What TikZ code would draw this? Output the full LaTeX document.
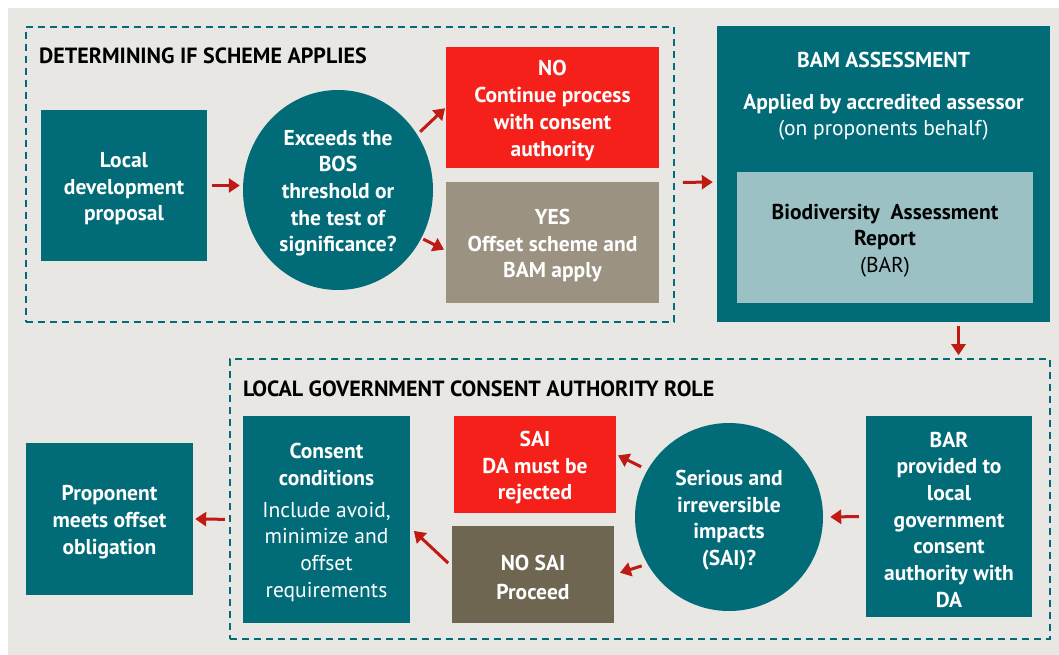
\documentclass[tikz,border=0pt]{standalone}
\usepackage{fontspec}
\setmainfont{PT Sans}
\usetikzlibrary{arrows.meta,shapes.geometric,calc}
\definecolor{bgc}{HTML}{E8E7E3}
\definecolor{tealc}{HTML}{016B78}
\definecolor{redc}{HTML}{F5201A}
\definecolor{yesc}{HTML}{9C9282}
\definecolor{nosaic}{HTML}{6E6651}
\definecolor{barc}{HTML}{9CC1C4}
\definecolor{arrc}{HTML}{C01A14}
\newcommand{\upstrut}{\rule{0pt}{21.5pt}}
\begin{document}
\begin{tikzpicture}[x=1pt,y=-1pt,
  txt/.style={font=\bfseries\fontsize{21.5}{26.7}\selectfont, align=center, text=white},
  box/.style={txt, rectangle, inner sep=0pt},
  circ/.style={txt, ellipse, inner sep=0pt, fill=tealc},
  frame/.style={draw=tealc, line width=1.6pt, dash pattern=on 7pt off 5pt, rectangle, inner sep=0pt},
  title/.style={font=\bfseries\fontsize{22}{24}\selectfont, text=black, anchor=west, inner sep=0pt},
  arr/.style={draw=arrc, line width=3pt, -{Triangle[length=11pt,width=14pt]}}
]
\useasboundingbox (0,0) rectangle (1059,655);
\fill[bgc] (8,8) rectangle (1059,655);

% top frame
\node[frame, minimum width=648pt, minimum height=295pt] (frame1) at (350,174.5) {};
\node[title] (t1) at (39,56) {DETERMINING IF SCHEME APPLIES};
\node[box, fill=tealc, minimum width=166pt, minimum height=151pt] (local) at (124,185.5) {\upstrut Local\\development\\proposal};
\node[circ, minimum width=190pt, minimum height=200pt] (c1) at (338,190) {\upstrut Exceeds the\\BOS\\threshold or\\the test of\\significance?};
\node[box, fill=redc, minimum width=213pt, minimum height=121pt] (no) at (552.5,107.5) {\upstrut NO\\Continue process\\with consent\\authority};
\node[box, fill=yesc, minimum width=213pt, minimum height=121pt] (yes) at (552.5,242.5) {\upstrut YES\\Offset scheme and\\BAM apply};

% BAM
\node[box, fill=tealc, minimum width=333pt, minimum height=296pt] (bam) at (883.5,174) {};
\node[txt] (bamt) at (883.5,60) {BAM ASSESSMENT};
\node[txt] (bams) at (883.5,114) {\upstrut Applied by accredited assessor\\\mdseries (on proponents behalf)};
\node[box, fill=barc, text=black, minimum width=296pt, minimum height=131pt] (barin) at (885,237.5) {\upstrut Biodiversity~~Assessment\\Report\\\mdseries (BAR)};

% bottom frame
\node[frame, minimum width=820pt, minimum height=280pt] (frame2) at (640,499) {};
\node[title] (t2) at (243,389) {LOCAL GOVERNMENT CONSENT AUTHORITY ROLE};
\node[box, fill=tealc, minimum width=166pt, minimum height=201pt] (bar) at (949,516.5) {\upstrut BAR\\provided to\\local\\government\\consent\\authority with\\DA};
\node[circ, minimum width=188pt, minimum height=188pt] (c2) at (729,517) {\upstrut Serious and\\irreversible\\impacts\\(SAI)?};
\node[box, fill=redc, minimum width=162pt, minimum height=97pt] (sai) at (535,464.5) {\upstrut SAI\\DA must be\\rejected};
\node[box, fill=nosaic, minimum width=162pt, minimum height=97pt] (nosai) at (533,574.5) {\upstrut NO SAI\\[2pt]Proceed};
\node[box, fill=tealc, minimum width=167pt, minimum height=207pt] (consent) at (326.5,519.5) {\upstrut Consent\\conditions\\[5pt]\mdseries Include avoid,\\\mdseries minimize and\\\mdseries offset\\\mdseries requirements};
\node[box, fill=tealc, minimum width=167pt, minimum height=152pt] (prop) at (109.5,519) {\upstrut Proponent\\meets offset\\obligation};

% arrows
\draw[arr, shorten <=5pt, shorten >=3pt] (local.east) -- (local.east -| c1.west);
\draw[arr, shorten <=4pt, shorten >=1pt] (c1.35) -- (no.west);
\draw[arr, shorten <=2pt, shorten >=2pt] (c1.-30) -- ([yshift=-8pt]yes.west);
\draw[arr, shorten <=8pt, shorten >=4pt] ([yshift=-8pt]frame1.east) -- ([yshift=-8pt]bam.west);
\draw[arr, shorten <=4pt, shorten >=3pt] ([xshift=75pt]bam.south) -- ([xshift=75pt]bam.south |- frame2.north);
\draw[arr, shorten <=7pt, shorten >=7pt] (bar.west) -- (c2.east);
\draw[arr, shorten <=7pt, shorten >=2pt] (c2.150) -- ([yshift=10pt]sai.east);
\draw[arr, shorten <=6pt, shorten >=6pt] (c2.210) -- (nosai.east);
\draw[arr, shorten <=5pt, shorten >=5pt] ([yshift=8pt]nosai.west) -- ([yshift=-8pt]consent.east);
\draw[arr, shorten <=18pt, shorten >=2pt] (consent.west) -- (prop.east);
\end{tikzpicture}
\end{document}
